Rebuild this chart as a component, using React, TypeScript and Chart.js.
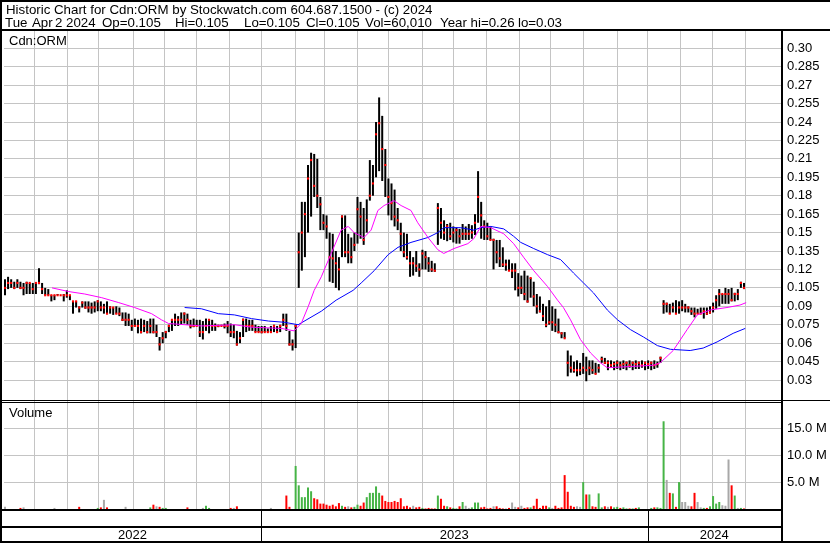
import React, { useEffect, useRef } from "react";
import { Chart, registerables } from "chart.js";

Chart.register(...registerables);

// ---- price bars (one bar per ~2 trading days, May 2022 – Apr 2024) ----
const highs = [
  0.112, 0.114, 0.112, 0.110, 0.112, 0.110, 0.109, 0.110, 0.109, 0.109,
  0.109, 0.121, 0.109, 0.105, 0.104, 0.099, 0.099, 0.100, 0.099, 0.100,
  0.103, 0.099, 0.094, 0.094, 0.090, 0.094, 0.094, 0.094, 0.093, 0.094,
  0.095, 0.094, 0.092, 0.094, 0.090, 0.089, 0.090, 0.089, 0.085, 0.085,
  0.084, 0.079, 0.080, 0.079, 0.080, 0.079, 0.078, 0.080, 0.080, 0.075,
  0.065, 0.069, 0.070, 0.075, 0.079, 0.084, 0.082, 0.085, 0.085, 0.084,
  0.079, 0.080, 0.079, 0.079, 0.078, 0.080, 0.079, 0.079, 0.076, 0.075,
  0.075, 0.076, 0.078, 0.076, 0.075, 0.070, 0.069, 0.080, 0.080, 0.079,
  0.079, 0.075, 0.074, 0.074, 0.074, 0.072, 0.074, 0.075, 0.074, 0.075,
  0.084, 0.084, 0.070, 0.063, 0.075, 0.150, 0.175, 0.175, 0.205, 0.215,
  0.214, 0.210, 0.179, 0.165, 0.164, 0.150, 0.149, 0.135, 0.130, 0.164,
  0.164, 0.149, 0.146, 0.150, 0.179, 0.175, 0.170, 0.177, 0.209, 0.205,
  0.240, 0.260, 0.245, 0.218, 0.194, 0.190, 0.185, 0.170, 0.158, 0.150,
  0.149, 0.135, 0.130, 0.135, 0.125, 0.136, 0.135, 0.130, 0.127, 0.125,
  0.174, 0.170, 0.160, 0.157, 0.158, 0.155, 0.154, 0.153, 0.157, 0.155,
  0.157, 0.156, 0.165, 0.200, 0.175, 0.160, 0.158, 0.155, 0.145, 0.144,
  0.144, 0.138, 0.128, 0.128, 0.125, 0.125, 0.117, 0.115, 0.119, 0.115,
  0.113, 0.110, 0.100, 0.098, 0.092, 0.090, 0.095, 0.090, 0.088, 0.080,
  0.069, 0.069, 0.054, 0.050, 0.045, 0.046, 0.044, 0.052, 0.049, 0.046,
  0.046, 0.044, 0.043, 0.049, 0.048, 0.046, 0.046, 0.045, 0.046, 0.045,
  0.046, 0.045, 0.046, 0.045, 0.046, 0.045, 0.046, 0.045, 0.046, 0.045,
  0.046, 0.045, 0.049, 0.095, 0.093, 0.092, 0.093, 0.095, 0.094, 0.095,
  0.092, 0.090, 0.089, 0.089, 0.088, 0.089, 0.089, 0.089, 0.090, 0.093,
  0.099, 0.104, 0.100, 0.105, 0.104, 0.105, 0.101, 0.104, 0.110, 0.109,
];

const lows = [
  0.099, 0.104, 0.105, 0.104, 0.105, 0.104, 0.099, 0.100, 0.100, 0.100,
  0.100, 0.108, 0.100, 0.099, 0.099, 0.094, 0.095, 0.099, 0.099, 0.094,
  0.097, 0.095, 0.084, 0.089, 0.085, 0.089, 0.088, 0.085, 0.084, 0.085,
  0.086, 0.086, 0.084, 0.084, 0.084, 0.083, 0.084, 0.082, 0.078, 0.074,
  0.074, 0.070, 0.074, 0.068, 0.068, 0.069, 0.068, 0.068, 0.068, 0.065,
  0.054, 0.060, 0.064, 0.069, 0.070, 0.074, 0.074, 0.075, 0.076, 0.075,
  0.072, 0.073, 0.074, 0.065, 0.063, 0.070, 0.068, 0.070, 0.070, 0.073,
  0.074, 0.072, 0.068, 0.065, 0.064, 0.058, 0.060, 0.065, 0.069, 0.070,
  0.070, 0.069, 0.069, 0.068, 0.069, 0.069, 0.069, 0.069, 0.069, 0.069,
  0.074, 0.070, 0.058, 0.054, 0.056, 0.105, 0.119, 0.130, 0.150, 0.163,
  0.179, 0.170, 0.152, 0.152, 0.145, 0.110, 0.109, 0.105, 0.103, 0.130,
  0.130, 0.125, 0.125, 0.135, 0.141, 0.145, 0.140, 0.150, 0.176, 0.180,
  0.195, 0.200, 0.192, 0.179, 0.164, 0.160, 0.155, 0.152, 0.135, 0.130,
  0.128, 0.114, 0.115, 0.118, 0.114, 0.120, 0.120, 0.118, 0.118, 0.118,
  0.140, 0.145, 0.144, 0.143, 0.144, 0.142, 0.141, 0.141, 0.144, 0.144,
  0.144, 0.145, 0.148, 0.158, 0.145, 0.144, 0.144, 0.144, 0.120, 0.125,
  0.122, 0.122, 0.119, 0.119, 0.113, 0.103, 0.098, 0.100, 0.095, 0.093,
  0.097, 0.090, 0.084, 0.085, 0.078, 0.073, 0.075, 0.070, 0.069, 0.068,
  0.064, 0.064, 0.033, 0.036, 0.036, 0.033, 0.034, 0.035, 0.029, 0.034,
  0.035, 0.035, 0.036, 0.044, 0.043, 0.038, 0.040, 0.038, 0.039, 0.038,
  0.039, 0.038, 0.040, 0.038, 0.039, 0.039, 0.040, 0.038, 0.039, 0.038,
  0.039, 0.040, 0.044, 0.084, 0.085, 0.084, 0.085, 0.084, 0.084, 0.086,
  0.085, 0.085, 0.083, 0.081, 0.084, 0.084, 0.080, 0.083, 0.084, 0.085,
  0.088, 0.090, 0.092, 0.092, 0.092, 0.094, 0.094, 0.095, 0.105, 0.104,
];

const closes = [
  0.105, 0.109, 0.109, 0.105, 0.109, 0.105, 0.105, 0.109, 0.109, 0.104,
  0.109, 0.109, 0.104, 0.099, 0.099, 0.099, 0.099, 0.099, 0.099, 0.099,
  0.099, 0.099, 0.094, 0.094, 0.089, 0.093, 0.089, 0.089, 0.089, 0.089,
  0.094, 0.089, 0.089, 0.084, 0.089, 0.089, 0.084, 0.084, 0.079, 0.079,
  0.079, 0.074, 0.074, 0.074, 0.069, 0.074, 0.069, 0.074, 0.069, 0.069,
  0.059, 0.064, 0.069, 0.074, 0.079, 0.079, 0.079, 0.079, 0.084, 0.079,
  0.074, 0.074, 0.074, 0.069, 0.069, 0.074, 0.079, 0.074, 0.074, 0.074,
  0.074, 0.074, 0.074, 0.069, 0.069, 0.059, 0.064, 0.079, 0.074, 0.074,
  0.074, 0.069, 0.069, 0.069, 0.069, 0.069, 0.069, 0.074, 0.069, 0.074,
  0.079, 0.074, 0.059, 0.059, 0.074, 0.134, 0.150, 0.165, 0.194, 0.209,
  0.188, 0.180, 0.173, 0.158, 0.155, 0.130, 0.129, 0.125, 0.120, 0.163,
  0.134, 0.134, 0.130, 0.140, 0.169, 0.163, 0.144, 0.160, 0.180, 0.190,
  0.230, 0.239, 0.218, 0.205, 0.179, 0.174, 0.163, 0.160, 0.149, 0.134,
  0.130, 0.125, 0.125, 0.123, 0.120, 0.133, 0.130, 0.125, 0.120, 0.119,
  0.170, 0.158, 0.150, 0.155, 0.147, 0.150, 0.152, 0.147, 0.149, 0.149,
  0.149, 0.150, 0.158, 0.179, 0.164, 0.155, 0.147, 0.144, 0.144, 0.134,
  0.129, 0.124, 0.124, 0.119, 0.119, 0.119, 0.105, 0.105, 0.100, 0.094,
  0.113, 0.098, 0.090, 0.086, 0.082, 0.075, 0.077, 0.077, 0.075, 0.069,
  0.068, 0.064, 0.044, 0.040, 0.038, 0.038, 0.038, 0.040, 0.038, 0.040,
  0.038, 0.035, 0.040, 0.047, 0.044, 0.044, 0.042, 0.043, 0.044, 0.042,
  0.043, 0.044, 0.042, 0.044, 0.043, 0.044, 0.042, 0.044, 0.043, 0.044,
  0.042, 0.043, 0.048, 0.092, 0.092, 0.084, 0.089, 0.084, 0.089, 0.089,
  0.089, 0.089, 0.086, 0.084, 0.084, 0.084, 0.086, 0.084, 0.085, 0.089,
  0.095, 0.100, 0.100, 0.100, 0.100, 0.095, 0.100, 0.100, 0.109, 0.105,
];

// volume in millions of shares
const volumes = [
  0.4, 0, 0, 0, 0, 0.2, 0.3, 0, 0, 0,
  0, 0, 0, 0, 0, 0, 0.2, 0, 0, 0,
  0, 0, 0, 0, 0.4, 0, 0, 0, 0, 0,
  0.2, 0.3, 1.7, 0.3, 0, 0, 0, 0, 0, 0.4,
  0, 0, 0, 0, 0, 0, 0, 0.3, 0.8, 0.5,
  0.4, 0.2, 0.2, 0, 0, 0, 0, 0, 0, 0.3,
  0, 0, 0, 0, 0.2, 0.6, 0.2, 0, 0, 0,
  0, 0, 0, 0.2, 0.2, 0.5, 0, 0, 0, 0,
  0, 0, 0, 0, 0, 0, 0.2, 0, 0, 0,
  0, 2.5, 0.4, 0, 8.0, 4.4, 2.2, 2.2, 4.0, 3.3,
  2.0, 1.8, 1.0, 1.0, 0.8, 0.6, 0.8, 0.5, 1.1, 0.6,
  0.4, 0.5, 0.3, 0.4, 0.8, 0.6, 1.2, 2.2, 3.0, 3.0,
  4.2, 3.0, 2.5, 1.5, 1.3, 1.3, 1.5, 1.3, 2.0, 0.5,
  0.6, 0.3, 0.6, 0.3, 0.4, 0.2, 0.1, 0.2, 0.1, 0.1,
  2.5, 1.9, 0.6, 0.5, 0.3, 0.2, 0.1, 0.5, 1.3, 0.6,
  0.2, 0.3, 1.2, 1.2, 0.3, 0.4, 0.1, 0.2, 0.5, 0.5,
  0.2, 0.1, 0.1, 0.2, 1.2, 0.4, 0.3, 0.6, 0.2, 0.3,
  0.3, 0.6, 1.9, 0.2, 0.6, 0.6, 0.3, 0.2, 0.6, 0.2,
  0.3, 6.3, 3.2, 0.6, 0.4, 0.5, 0.4, 5.0, 2.7, 2.7,
  0.5, 0.4, 2.9, 0.3, 0.5, 0.4, 0.5, 0.3, 0.4, 0.2,
  0.3, 0.1, 0.1, 0.1, 0.2, 0.3, 0, 0, 0, 0.2,
  0.3, 0.3, 0.2, 16.3, 5.4, 3.0, 2.9, 0.4, 5.0, 1.3,
  1.3, 0.6, 0.5, 3.0, 1.3, 0.3, 0.2, 0.2, 0.5, 2.4,
  1.0, 1.3, 0.7, 0.6, 9.2, 4.4, 2.5, 0.2, 0.2, 0.1,
];

// moving averages (bar-index position, value)
const maShortIdx = [15.2, 20.6, 25.8, 31.3, 36.8, 41.9, 47.4, 50.6, 52.9, 63.5, 74.2, 79.7, 89.4, 93.5, 95.8, 98.1, 100, 102.3, 105.5, 108.7, 111, 112.9, 116.1, 118.4, 120.6, 122.6, 125.8, 128.1, 131.3, 133.5, 136.8, 140, 141.9, 145.2, 149.7, 151.6, 153.9, 157.1, 161.3, 164.5, 167.7, 171, 175.5, 178.7, 180.6, 182.9, 186.1, 189.4, 192.6, 194.8, 202.3, 209.7, 211.9, 216.1, 220.6, 223.9, 228.1, 233.5, 237.7, 239.7];
const maShortVal = [0.105, 0.102, 0.100, 0.097, 0.093, 0.089, 0.084, 0.079, 0.076, 0.074, 0.075, 0.073, 0.072, 0.070, 0.076, 0.090, 0.103, 0.114, 0.133, 0.152, 0.155, 0.150, 0.146, 0.152, 0.168, 0.172, 0.176, 0.172, 0.168, 0.158, 0.146, 0.136, 0.133, 0.137, 0.141, 0.145, 0.155, 0.154, 0.149, 0.141, 0.130, 0.119, 0.106, 0.095, 0.089, 0.079, 0.063, 0.052, 0.044, 0.040, 0.041, 0.042, 0.044, 0.054, 0.071, 0.083, 0.087, 0.089, 0.091, 0.093];

const maLongIdx = [58.1, 63.5, 69, 74.2, 79.7, 85.2, 90.3, 94.8, 102.3, 107.1, 112.6, 115.2, 119.4, 123.9, 127.1, 131.3, 136.8, 140, 141.9, 147.4, 151.6, 153.9, 157.1, 161.3, 164.5, 166.8, 171, 175.5, 179.7, 183.9, 187.1, 190.3, 194.8, 198.1, 202.3, 206.5, 211, 215.2, 221.6, 225.8, 230.3, 235.5, 239.4];
const maLongVal = [0.089, 0.088, 0.084, 0.083, 0.080, 0.078, 0.077, 0.075, 0.086, 0.095, 0.103, 0.109, 0.119, 0.132, 0.138, 0.142, 0.146, 0.150, 0.154, 0.154, 0.152, 0.154, 0.155, 0.153, 0.147, 0.142, 0.137, 0.132, 0.128, 0.117, 0.109, 0.101, 0.087, 0.079, 0.071, 0.065, 0.058, 0.055, 0.054, 0.056, 0.061, 0.068, 0.072];

// month starts (bar-index units), Jun 2022 .. Apr 2024
const monthStarts = [9.45, 20.1, 30.2, 41.5, 51.5, 61.9, 72.5, 82.8, 93.8, 103.3, 113.9, 124.1, 135.1, 145.1, 155.8, 166.5, 176.4, 187.1, 198.0, 207.8, 218.6, 228.9, 239.4];
const xStart = -0.32;
const xEnd = 250.97;
const yearLabels = ["2022", "2023", "2024"];
const yearBounds = [xStart, 82.8, 207.8, xEnd];

const priceTicks = [0.30, 0.285, 0.27, 0.255, 0.24, 0.225, 0.21, 0.195, 0.18, 0.165, 0.15, 0.135, 0.12, 0.105, 0.09, 0.075, 0.06, 0.045, 0.03];
const priceTickLabels = ["0.30", "0.285", "0.27", "0.255", "0.24", "0.225", "0.21", "0.195", "0.18", "0.165", "0.15", "0.135", "0.12", "0.105", "0.09", "0.075", "0.06", "0.045", "0.03"];
const priceMin = 0.01292;
const priceMax = 0.31407;

const volTicks = [5, 10, 15];
const volTickLabels = ["5.0 M", "10.0 M", "15.0 M"];
const volMax = 20.07;

const titleLine = "Historic Chart for Cdn:ORM by Stockwatch.com 604.687.1500 - (c) 2024";
const infoParts = ["Tue", "Apr", "2", "2024", "Op=0.105", "Hi=0.105", "Lo=0.105", "Cl=0.105", "Vol=60,010", "Year hi=0.26", "lo=0.03"];
const infoX = [5, 32, 55, 66, 102, 175, 244, 306, 365, 440, 518];
const symbolLabel = "Cdn:ORM";
const volumeLabel = "Volume";

const W = 830;
const H = 543;
const TITLE_FONT = '13.3px "Liberation Sans", Arial, sans-serif';
const INFO_FONT = '13.3px "Liberation Sans", Arial, sans-serif';
const FONT = '13px "Liberation Sans", Arial, sans-serif';
const fontSpec = { family: '"Liberation Sans", Arial, sans-serif', size: 13 };
const GRID = "#c4c4c4";

export default function App() {
  const ref = useRef<HTMLCanvasElement | null>(null);

  useEffect(() => {
    const canvas = ref.current;
    if (!canvas) return;

    const rangeData = highs.map((h, i) => ({ x: i, y: [lows[i], h] }));
    const closeData = closes.map((c, i) => ({ x: i, y: c }));
    const volPts: { x: number; y: number }[] = [];
    const volCols: string[] = [];
    volumes.forEach((v, i) => {
      if (v <= 0) return;
      volPts.push({ x: i, y: v });
      const prev = i > 0 ? closes[i - 1] : closes[i];
      volCols.push(closes[i] > prev ? "#46b446" : closes[i] < prev ? "#ff0000" : "#a8a8a8");
    });
    const yearCenters = yearLabels.map((_, i) => (yearBounds[i] + yearBounds[i + 1]) / 2);

    const framePlugin = {
      id: "frame",
      afterDraw(chart: any) {
        const ctx = chart.ctx;
        const area = chart.chartArea;
        const xs = chart.scales.x;
        const yp = chart.scales.y;
        const yv = chart.scales.yv;
        ctx.save();
        ctx.fillStyle = "#000000";
        ctx.fillRect(0, 0, W, 2);
        ctx.fillRect(0, 0, 2, H);
        ctx.fillRect(0, area.top - 2, W, 2);
        ctx.fillRect(Math.round(area.right), area.top, 2, H - area.top);
        ctx.fillRect(0, Math.round(yv.top) - 1, W, 1);
        ctx.fillRect(0, Math.round(yv.top) + 1, Math.round(area.right), 1);
        ctx.fillRect(0, Math.round(area.bottom), Math.round(area.right), 2);
        ctx.fillRect(0, Math.round(area.bottom) + 17, Math.round(area.right), 2);
        ctx.fillRect(0, H - 2, W, 2);
        for (let i = 1; i < yearBounds.length - 1; i++) {
          const px = Math.round(xs.getPixelForValue(yearBounds[i]));
          ctx.fillRect(px, Math.round(area.bottom), 1, H - Math.round(area.bottom));
        }
        ctx.textBaseline = "middle";
        ctx.textAlign = "left";
        ctx.font = TITLE_FONT;
        ctx.fillText(titleLine, 6, 10);
        ctx.font = INFO_FONT;
        infoParts.forEach((t, i) => ctx.fillText(t, infoX[i], 23));
        ctx.font = FONT;
        ctx.fillText(symbolLabel, 9, area.top + 10);
        ctx.fillText(volumeLabel, 9, yv.top + 12);

        // grid lines at the scales' tick positions, painted behind everything already drawn
        ctx.globalCompositeOperation = "destination-over";
        ctx.fillStyle = GRID;
        monthStarts.forEach((m) => {
          const px = Math.round(xs.getPixelForValue(m) - 0.5);
          ctx.fillRect(px, area.top, 1, area.bottom - area.top);
        });
        priceTicks.forEach((t) => {
          const py = Math.round(yp.getPixelForValue(t) - 0.5);
          ctx.fillRect(area.left, py, area.right - area.left, 1);
        });
        volTicks.forEach((t) => {
          const py = Math.round(yv.getPixelForValue(t) - 0.5);
          ctx.fillRect(area.left, py, area.right - area.left, 1);
        });
        ctx.fillStyle = "#ffffff";
        ctx.fillRect(0, 0, W, H);
        ctx.restore();
      },
    };

    const chart = new Chart(canvas, {
      type: "bar",
      data: {
        datasets: [
          {
            type: "line",
            label: "MA short",
            data: maShortIdx.map((x, i) => ({ x, y: maShortVal[i] })),
            borderColor: "#ff00ff",
            borderWidth: 1,
            pointRadius: 0,
            tension: 0,
            fill: false,
            yAxisID: "y",
            order: 0,
          },
          {
            type: "line",
            label: "MA long",
            data: maLongIdx.map((x, i) => ({ x, y: maLongVal[i] })),
            borderColor: "#0000ff",
            borderWidth: 1,
            pointRadius: 0,
            tension: 0,
            fill: false,
            yAxisID: "y",
            order: 0,
          },
          {
            type: "scatter",
            label: "Close",
            data: closeData,
            pointStyle: "rect",
            pointRadius: 1.5,
            backgroundColor: "#ff0000",
            borderWidth: 0,
            yAxisID: "y",
            order: 1,
          },
          {
            type: "bar",
            label: "Range",
            data: rangeData as any,
            backgroundColor: "#000000",
            grouped: false,
            maxBarThickness: 2,
            yAxisID: "y",
            order: 2,
          },
          {
            type: "bar",
            label: "Volume",
            data: volPts as any,
            backgroundColor: volCols,
            grouped: false,
            maxBarThickness: 2,
            yAxisID: "yv",
            order: 3,
          },
        ] as any,
      },
      options: {
        animation: false,
        responsive: false,
        devicePixelRatio: 1,
        events: [],
        layout: { padding: { left: 2, top: 31, right: 0, bottom: 0 } },
        plugins: { legend: { display: false }, tooltip: { enabled: false }, title: { display: false } },
        scales: {
          x: {
            type: "linear",
            position: "bottom",
            offset: false,
            min: xStart,
            max: xEnd,
            grid: { display: false, drawTicks: false, offset: false },
            border: { display: false },
            ticks: { display: false },
            afterBuildTicks: (s: any) => {
              s.ticks = monthStarts.map((v) => ({ value: v }));
            },
            afterFit: (s: any) => {
              s.height = 0;
            },
          },
          x2: {
            type: "linear",
            position: "bottom",
            offset: false,
            min: xStart,
            max: xEnd,
            grid: { display: false, drawTicks: false, offset: false },
            border: { display: false },
            ticks: {
              color: "#000000",
              font: fontSpec,
              padding: 19,
              autoSkip: false,
              maxRotation: 0,
              callback: (_v: any, i: number) => yearLabels[i],
            },
            afterBuildTicks: (s: any) => {
              s.ticks = yearCenters.map((v) => ({ value: v }));
            },
            afterFit: (s: any) => {
              s.height = 34;
            },
          },
          y: {
            type: "linear",
            position: "right",
            stack: "panels",
            stackWeight: 370,
            stacked: false,
            min: priceMin,
            max: priceMax,
            grid: { display: false, drawTicks: false },
            border: { display: false },
            ticks: {
              color: "#000000",
              font: fontSpec,
              padding: 6,
              autoSkip: false,
              callback: (_v: any, i: number) => priceTickLabels[i],
            },
            afterBuildTicks: (s: any) => {
              s.ticks = priceTicks.map((v) => ({ value: v }));
            },
            afterFit: (s: any) => {
              s.width = 49;
            },
          },
          yv: {
            type: "linear",
            position: "right",
            stack: "panels",
            stackWeight: 108,
            stacked: false,
            min: 0,
            max: volMax,
            grid: { display: false, drawTicks: false },
            border: { display: false },
            ticks: {
              color: "#000000",
              font: fontSpec,
              padding: 6,
              autoSkip: false,
              callback: (_v: any, i: number) => volTickLabels[i],
            },
            afterBuildTicks: (s: any) => {
              s.ticks = volTicks.map((v) => ({ value: v }));
            },
            afterFit: (s: any) => {
              s.width = 49;
            },
          },
        },
      } as any,
      plugins: [framePlugin],
    });

    return () => chart.destroy();
  }, []);

  return (
    <div style={{ position: "absolute", left: 0, top: 0, width: W, height: H, background: "#fff" }}>
      <canvas ref={ref} width={W} height={H} style={{ display: "block", width: W, height: H }} />
    </div>
  );
}
